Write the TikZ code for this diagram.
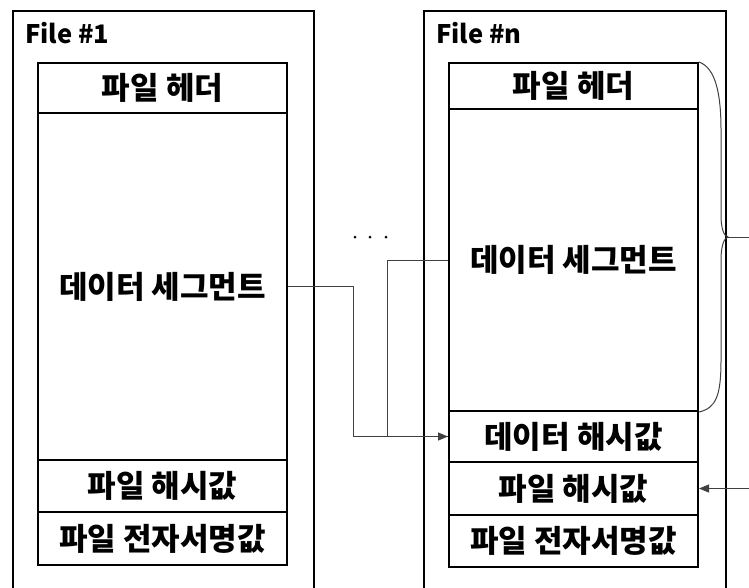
\documentclass[tikz,border=0pt]{standalone}
\usepackage{fontspec}
\setmainfont{Noto Sans CJK KR}
\usetikzlibrary{arrows.meta}
\begin{document}
\begin{tikzpicture}[x=1pt,y=-1pt,
  every node/.style={font=\fontsize{31}{34}\selectfont\bfseries},
  outerbox/.style={draw,line width=2.4pt,minimum width=301pt,minimum height=590pt,inner sep=0pt,anchor=north west},
  cell/.style={draw,line width=2pt,minimum width=249pt,inner sep=0pt},
  conn/.style={line width=1pt,black!75},
  tip/.style={-{Triangle[length=10pt,width=8pt]}},
  title/.style={anchor=west,inner sep=0pt,font=\fontsize{25.5}{28}\selectfont\bfseries}]
\useasboundingbox (0,0) rectangle (749,587);
% outer boxes
\node[outerbox] (f1) at (12,9.5) {};
\node[outerbox,minimum width=302pt] (fn) at (423,9.5) {};
\node[title] (t1) at (25,33) {File \#1};
\node[title] (tn) at (436,33) {File \#n};
% left stack
\node[cell,minimum height=50pt] (h1) at (162.5,88) {파일 헤더};
\node[cell,minimum height=347pt] (d1) at (162.5,286.5) {데이터 세그먼트};
\node[cell,minimum height=52pt] (fh1) at (162.5,486) {파일 해시값};
\node[cell,minimum height=53pt] (s1) at (162.5,538.5) {파일 전자서명값};
% right stack
\node[cell,minimum height=46pt] (h2) at (573.5,86) {파일 헤더};
\node[cell,minimum height=302pt] (d2) at (573.5,260) {데이터 세그먼트};
\node[cell,minimum height=51pt] (dh) at (573.5,436.5) {데이터 해시값};
\node[cell,minimum height=53pt] (fh2) at (573.5,488.5) {파일 해시값};
\node[cell,minimum height=52pt] (s2) at (573.5,541) {파일 전자서명값};
% dots
\foreach \xx in {355,370,386} \fill (\xx,237) circle (1.5pt);
% connectors
\draw[conn,tip] (d1.east) -- ++(65,0) |- (dh.west);
\draw[conn] (d2.west) -- ++(-61,0) |- (dh.west);
\coordinate (rin) at (749,488.5);
\draw[conn,tip] (rin) -- (fh2.east);
% brace
\coordinate (btip) at (749,237);
\draw[conn] (h2.north east) .. controls (716,68) and (721,95) .. (721,130)
  -- (721,215) .. controls (721,229) and (724,236) .. (728,237)
  .. controls (724,238) and (721,246) .. (721,260)
  -- (721,360) .. controls (721,396) and (716,408) .. (d2.south east);
\draw[conn] (728,237) -- (btip);
\end{tikzpicture}
\end{document}
